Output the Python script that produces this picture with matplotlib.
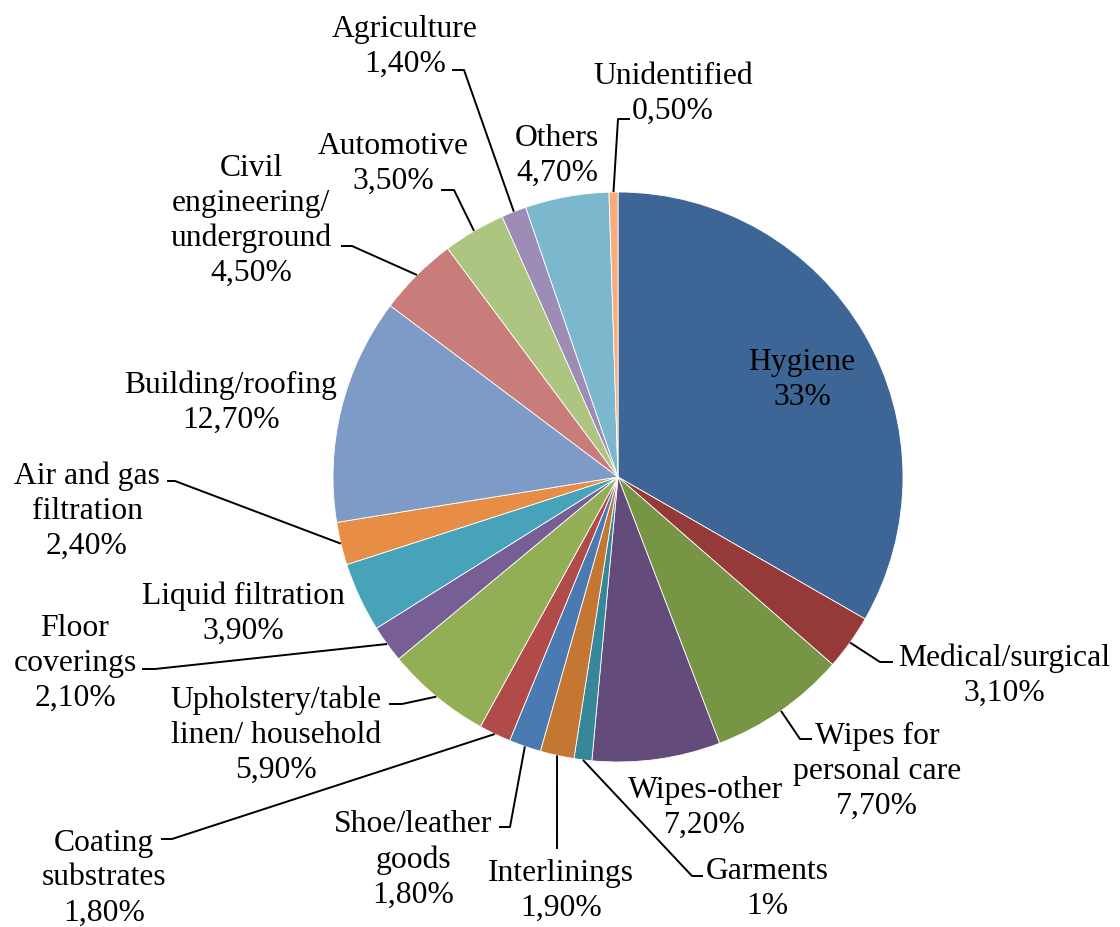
import matplotlib.pyplot as plt
import numpy as np

# Nonwovens end-use shares (%)
categories = ['Hygiene', 'Medical/surgical', 'Wipes for\npersonal care', 'Wipes-other',
              'Garments', 'Interlinings', 'Shoe/leather\ngoods', 'Coating\nsubstrates',
              'Upholstery/table\nlinen/ household', 'Floor\ncoverings', 'Liquid filtration',
              'Air and gas\nfiltration', 'Building/roofing', 'Civil\nengineering/\nunderground',
              'Automotive', 'Agriculture', 'Others', 'Unidentified']
shares = [33, 3.1, 7.7, 7.2, 1, 1.9, 1.8, 1.8, 5.9, 2.1, 3.9, 2.4, 12.7, 4.5, 3.5, 1.4, 4.7, 0.5]
colors = ['#3D6696', '#953A39', '#789445', '#634C7C', '#36879A', '#C47733', '#4A7AB2',
          '#B04B49', '#93AF56', '#775F96', '#47A3BA', '#E88D45', '#7E9BC8', '#C97D7B',
          '#AEC582', '#9D8CB6', '#7BB8CE', '#F7AC7B']


def fmt(v):
    if float(v).is_integer():
        return f'{v:g}%'
    return f'{v:.2f}%'.replace('.', ',')


# label centres in pixels (y measured from the top)
label_pos = [(802, 380), (1004, 676), (877, 771), (705, 808), (767, 889), (561, 891),
             (413, 860), (104, 878), (276, 735), (75, 663), (243, 614), (87, 511),
             (231, 403), (251, 221), (393, 164), (405, 47), (557, 156), (673, 94)]
# leader lines: elbow point and end point, pixels
leaders = {
    1: [(880, 663), (893, 663)],
    2: [(800, 740), (812, 740)],
    4: [(692, 877), (703, 877)],
    5: [(557, 850), (557, 850)],
    6: [(510, 828), (499, 828)],
    7: [(172, 840), (161, 840)],
    8: [(402, 705), (389, 705)],
    9: [(155, 670), (142, 670)],
    11: [(175, 482), (167, 482)],
    13: [(352, 247), (341, 247)],
    14: [(454, 191), (441, 191)],
    15: [(464, 71), (452, 71)],
    17: [(618, 120), (630, 120)],
}

W, H = 1120, 928
plt.rcParams['font.family'] = ['Liberation Serif', 'DejaVu Serif']

fig = plt.figure(figsize=(W / 100, H / 100), dpi=100)
ax = fig.add_axes([0, 0, 1, 1])

cx, cy, r = 618, H - 478, 285
wedges, _ = ax.pie(shares, colors=colors, startangle=90, counterclock=False,
                   center=(cx, cy), radius=r,
                   wedgeprops=dict(edgecolor='white', linewidth=0.6))
ax.set_xlim(0, W)
ax.set_ylim(0, H)
ax.axis('off')

for i, (name, v) in enumerate(zip(categories, shares)):
    x, y = label_pos[i]
    ax.text(x, H - y, f'{name}\n{fmt(v)}', ha='center', va='center',
            fontsize=22.8, linespacing=1.27, color='black')
    if i in leaders:
        w = wedges[i]
        t = np.deg2rad((w.theta1 + w.theta2) / 2)
        xs = [cx + r * np.cos(t)] + [p[0] for p in leaders[i]]
        ys = [cy + r * np.sin(t)] + [H - p[1] for p in leaders[i]]
        ax.plot(xs, ys, color='black', lw=1.4, solid_capstyle='butt')

fig.savefig('out.png', dpi=100)
